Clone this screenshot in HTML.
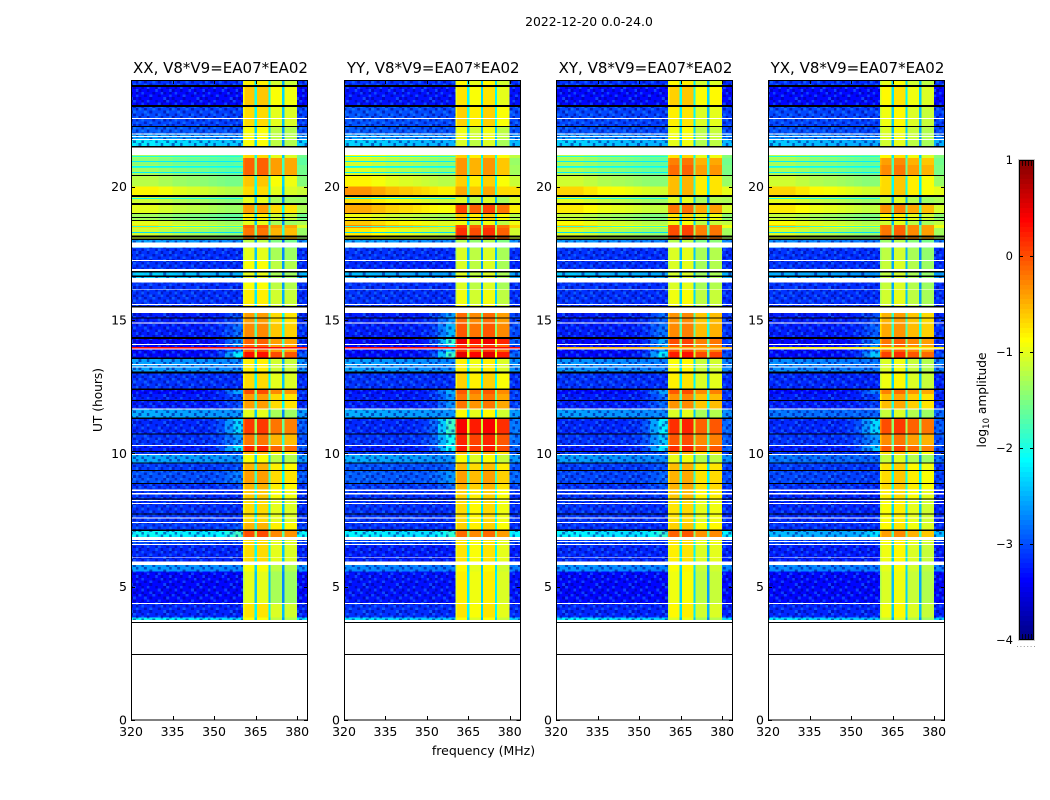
<!DOCTYPE html>
<html lang="en">
<head>
<meta charset="utf-8">
<title>2022-12-20 0.0-24.0</title>
<style>
html,body{margin:0;padding:0;background:#fff;}
svg{display:block;}
text{font-family:"DejaVu Sans","Liberation Sans",sans-serif;fill:#000;}
</style>
</head>
<body>
<svg id="chart" xmlns="http://www.w3.org/2000/svg" width="1050" height="800" viewBox="0 0 1050 800">
<defs>
<pattern id="speckle" patternUnits="userSpaceOnUse" width="33.24" height="27">
<g transform="scale(2.77,2.7)" shape-rendering="crispEdges">
<path fill="#000090" fill-opacity="0.55" d="M1 0h1v1h-1zM4 0h1v1h-1zM9 0h1v1h-1zM6 1h1v1h-1zM11 1h1v1h-1zM0 2h1v1h-1zM3 2h1v1h-1zM8 2h1v1h-1zM5 3h1v1h-1zM10 3h1v1h-1zM2 3h1v1h-1zM7 4h1v1h-1zM1 4h1v1h-1zM11 4h1v1h-1zM4 5h1v1h-1zM9 5h1v1h-1zM0 6h1v1h-1zM6 6h1v1h-1zM2 6h1v1h-1zM8 7h1v1h-1zM3 7h1v1h-1zM11 7h1v1h-1zM5 8h1v1h-1zM1 8h1v1h-1zM10 8h1v1h-1zM7 9h1v1h-1zM3 9h1v1h-1zM0 9h1v1h-1z"/>
<path fill="#20a0ff" fill-opacity="0.4" d="M2 0h1v1h-1zM7 0h1v1h-1zM0 1h1v1h-1zM4 1h1v1h-1zM9 2h1v1h-1zM5 2h1v1h-1zM1 3h1v1h-1zM8 3h1v1h-1zM3 4h1v1h-1zM10 4h1v1h-1zM6 5h1v1h-1zM1 5h1v1h-1zM11 6h1v1h-1zM5 7h1v1h-1zM0 7h1v1h-1zM9 8h1v1h-1zM3 8h1v1h-1zM6 9h1v1h-1zM10 9h1v1h-1z"/>
</g>
</pattern>
</defs>
<rect x="0" y="0" width="1050" height="800" fill="#fff"/>
<text x="589" y="26" font-size="12.4" text-anchor="middle">2022-12-20 0.0-24.0</text>
<text x="483.5" y="755" font-size="12.5" text-anchor="middle">frequency (MHz)</text>
<text transform="translate(102,400) rotate(-90)" font-size="12.2" text-anchor="middle">UT (hours)</text>
<text transform="translate(986,400) rotate(-90)" font-size="12.2" text-anchor="middle">log<tspan font-size="8.5" dy="3">10</tspan><tspan dy="-3"> amplitude</tspan></text>
</svg>
<script>
// ---- frequency channels (MHz) ----
const freqEdges = [320,325,330,335,340,345,348,351,354,357,360.4,361,364.6,365.4,369.6,370.4,374.6,375.4,380,384];
const channelLeak = [0,0,0,0,0,0,0,0,0,0,0.9,1,1,1,1,1,1,1,0];
const channelGlow = [0,0,0,0,0,0.03,0.1,0.3,0.8,1.3,0,0,0,0,0,0,0,0,0.4];
const channelTilt = [0.1,0.1,0.06,0.02,0,-0.02,-0.04,-0.06,-0.08,-0.08,0,0,0,0,0,0,0,0,-0.04];
const channelOffset = [0,0,0,0,0,0,0,0,0,0,-0.1,-0.1,-1.5,-0.1,-1.5,-0.1,-1.5,-0.1,0];
const channelBand = [-1,-1,-1,-1,-1,-1,-1,-1,-1,-1,0,0,0,1,1,2,2,3,-1];

// ---- time segments: lower edge in hours, last entry is the top ----
const segmentEdges = [3.75,3.84,4.39,5.56,5.81,6.56,6.87,7.15,7.38,8.30,
  8.66,8.85,9.36,9.64,9.94,10.09,10.27,10.72,11.29,11.66,
  12.22,12.37,13.01,13.54,13.80,14.06,14.29,14.85,15.26,15.56,
  16.14,16.40,16.80,17.20,17.70,18.00,18.45,18.56,18.71,18.97,
  19.31,19.65,20.00,20.40,20.81,21.07,21.19,21.52,21.75,22.00,22.24,22.99,23.74,24.00];

// ---- log10 amplitude by segment, below the band ----
const lowXX = [-2.1,-3.05,-3.2,-2.5,-3.05,-2.9,-2.1,-2.95,-3.0,-3.0,
  -3.0,-2.85,-2.95,-2.45,-3.0,-3.1,-3.0,-3.05,-2.45,-3.1,
  -3.2,-3.0,-2.5,-3.2,-3.2,-3.2,-3.1,-3.1,-3.0,-3.0,
  -3.0,-2.3,-3.0,-3.0,-2.5,-1.3,-0.95,-1.2,-1.5,-1.2,
  -1.3,-1.05,-1.4,-1.5,-1.6,-1.5,-1.5,-2.2,-2.5,-2.8,-2.9,-3.2,-3.0];
const lowYY = [-2.2,-3.0,-3.15,-2.6,-3.1,-2.9,-2.15,-3.0,-3.0,-3.0,
  -2.95,-2.8,-2.85,-2.45,-2.95,-3.1,-3.0,-3.05,-2.45,-3.1,
  -3.15,-3.0,-2.5,-3.2,-3.2,-3.2,-3.1,-3.1,-3.0,-3.0,
  -3.0,-2.4,-3.05,-3.0,-2.5,-1.0,-0.55,-0.85,-1.15,-0.7,
  -0.95,-0.6,-1.05,-1.25,-1.3,-1.1,-1.1,-2.3,-2.5,-2.8,-2.85,-3.15,-3.0];
const lowXY = [-2.15,-3.05,-3.2,-2.55,-3.05,-2.95,-2.15,-3.0,-3.0,-3.0,
  -3.0,-2.9,-2.95,-2.5,-3.0,-3.1,-3.0,-3.05,-2.5,-3.1,
  -3.2,-3.0,-2.55,-3.2,-3.2,-3.2,-3.1,-3.1,-3.0,-3.0,
  -3.0,-2.35,-3.0,-3.0,-2.55,-1.25,-0.85,-1.1,-1.35,-1.0,
  -1.2,-0.9,-1.3,-1.45,-1.5,-1.4,-1.4,-2.3,-2.55,-2.85,-2.9,-3.2,-3.0];
const lowYX = [-2.2,-3.05,-3.2,-2.6,-3.1,-2.95,-2.4,-3.0,-3.05,-3.05,
  -3.0,-2.9,-2.95,-2.7,-3.0,-3.1,-3.0,-3.05,-2.7,-3.1,
  -3.2,-3.05,-2.6,-3.2,-3.2,-3.2,-3.1,-3.1,-3.0,-3.0,
  -3.0,-2.45,-3.0,-3.0,-2.6,-1.25,-0.85,-1.1,-1.35,-1.0,
  -1.2,-0.9,-1.3,-1.45,-1.5,-1.4,-1.4,-2.35,-2.6,-2.85,-2.9,-3.2,-3.0];

// ---- log10 amplitude by segment, inside the band ----
const highXX = [-0.9,-0.75,-1.0,-0.9,-0.7,-0.7,0.0,-0.5,-0.7,-0.6,
  -0.5,-0.4,-0.5,-0.9,-0.5,0.2,-0.2,0.1,-1.0,-0.4,
  0.0,-0.7,-0.8,0.3,-0.1,-0.1,-0.3,-0.4,-0.8,-0.8,
  -0.9,-1.0,-0.9,-1.0,-1.2,-0.2,-0.1,-1.0,-0.8,-0.4,
  -1.0,-0.7,-0.6,-0.1,-0.1,-0.7,-0.7,-0.9,-0.9,-0.9,-0.7,-0.6,-0.8];
const highYY = [-0.85,-0.7,-0.75,-0.8,-0.7,-0.7,-0.1,-0.6,-0.65,-0.6,
  -0.45,-0.35,-0.5,-0.85,-0.4,0.3,0.25,0.45,-0.8,-0.15,
  0.0,-0.6,-0.75,0.55,0.15,0.5,0.0,-0.1,-0.85,-0.9,
  -1.0,-1.0,-1.0,-1.0,-1.2,0.2,0.1,-0.9,-0.6,0.1,
  -1.0,-0.4,-0.6,-0.3,-0.3,-0.6,-0.7,-1.0,-0.9,-0.9,-0.6,-0.7,-0.8];
const highXY = [-1.0,-0.8,-0.9,-0.85,-0.75,-0.7,-0.05,-0.6,-0.7,-0.55,
  -0.45,-0.45,-0.5,-0.95,-0.45,0.2,0.0,0.2,-1.0,-0.3,
  0.0,-0.75,-0.85,0.3,0.0,0.05,-0.25,-0.3,-0.9,-0.9,
  -1.0,-1.05,-1.0,-1.0,-1.2,0.05,0.05,-0.9,-0.7,-0.15,
  -1.0,-0.5,-0.5,-0.1,-0.2,-0.7,-0.7,-0.95,-0.9,-0.9,-0.75,-0.6,-0.8];
const highYX = [-1.05,-0.85,-0.95,-0.9,-0.85,-0.8,-0.3,-0.75,-0.8,-0.7,
  -0.6,-0.6,-0.65,-1.05,-0.6,0.05,-0.2,0.1,-1.05,-0.45,
  -0.15,-0.85,-0.95,0.15,-0.1,-0.1,-0.35,-0.4,-1.0,-1.0,
  -1.05,-1.1,-1.05,-1.1,-1.25,-0.1,-0.1,-1.0,-0.8,-0.25,
  -1.05,-0.6,-0.6,-0.2,-0.3,-0.75,-0.8,-1.0,-0.95,-0.95,-0.85,-0.75,-0.9];

// ---- offset of each of the four sub-bands ----
const bandTrimXX = [0.1,0.1,-0.2,-0.25];
const bandTrimYY = [0.05,-0.1,0.05,-0.2];
const bandTrimXY = [0.05,0.1,-0.2,-0.15];
const bandTrimYX = [0.0,0.1,-0.1,-0.2];

// ---- narrow interference rows: hours and level per polarisation ----
const rfiHours = [14.28,13.94,13.56];
const rfiXX = [0.2,0.35,0.1];
const rfiYY = [-0.6,0.35,-0.8];
const rfiXY = [-0.9,-0.5,-0.6];
const rfiYX = [-1.0,-0.8,-0.7];

// ---- faint streaks across the sub-band part of the evening rows ----
const streakHours = [21.11,20.93,20.74,20.7,20.51,19.54,18.49,18.26];
const streakLevels = [-2.0,-2.2,-2.1,-1.9,-2.2,-2.0,-1.9,-2.3];

// ---- flagged rows, hours as lower,upper pairs ----
const missingRows = [22.54,22.58,21.96,21.99,21.86,21.9,21.75,21.79,21.19,21.46,17.71,17.9,17.21,17.25,16.84,16.91,16.4,16.58,16.14,16.17,15.56,15.6,15.27,15.46,14.86,14.9,14.06,14.1,13.9,13.94,13.31,13.35,13.21,13.25,11.65,11.69,10.28,10.31,9.94,9.98,8.58,8.65,8.45,8.52,8.21,8.25,8.1,8.13,7.56,7.6,7.39,7.43,6.75,6.87,6.68,6.71,6.56,6.6,6.09,6.12,5.81,5.94,4.35,4.38];
const badRows = [23.74,23.81,22.99,23.06,22.24,22.28,21.46,21.52,20.4,20.44,19.62,19.69,19.31,19.39,18.98,19.02,18.85,18.87,18.71,18.75,18.1,18.16,18.0,18.06,16.79,16.84,16.61,16.66,15.46,15.53,15.06,15.1,14.28,14.37,13.54,13.59,13.0,13.06,12.38,12.44,11.97,12.0,11.29,11.35,10.71,10.75,10.05,10.09,9.64,9.66,9.35,9.38,8.85,8.88,8.28,8.31,7.73,7.75,7.09,7.15,3.65,3.68,2.44,2.48];

// ---- axes ----
const xTicks = [320,335,350,365,380];
const yTicks = [0,5,10,15,20];
const colorbarTicks = [-4,-3,-2,-1,0,1];
const panelTitles = ["XX, V8*V9=EA07*EA02","YY, V8*V9=EA07*EA02","XY, V8*V9=EA07*EA02","YX, V8*V9=EA07*EA02"];
const panelLows = [lowXX,lowYY,lowXY,lowYX];
const panelHighs = [highXX,highYY,highXY,highYX];
const panelTrims = [bandTrimXX,bandTrimYY,bandTrimXY,bandTrimYX];
const panelRfi = [rfiXX,rfiYY,rfiXY,rfiYX];
const panelSlugs = ["xx","yy","xy","yx"];
const panelLeft = [131,344,556,768];
const panelRight = [308,520.5,733,945];

const SVG_NS = "http://www.w3.org/2000/svg";
const svg = document.getElementById("chart");
const plotTop = 80, plotBottom = 720;
const yScale = function (h) { return plotBottom - (h / 24) * (plotBottom - plotTop); };
const cbTop = 160, cbBottom = 640;
const cbScale = function (v) { return cbBottom - ((v + 4) / 5) * (cbBottom - cbTop); };

function clip01(v) { return Math.max(0, Math.min(1, v)); }
function jet(v) {
  const t = clip01((v + 4) / 5);
  const r = clip01(1.5 - Math.abs(4 * t - 3));
  const g = clip01(1.5 - Math.abs(4 * t - 2));
  const b = clip01(1.5 - Math.abs(4 * t - 1));
  return "rgb(" + Math.round(r * 255) + "," + Math.round(g * 255) + "," + Math.round(b * 255) + ")";
}
function mk(tag, parent, attrs) {
  const el = document.createElementNS(SVG_NS, tag);
  for (const k in attrs) el.setAttribute(k, attrs[k]);
  parent.appendChild(el);
  return el;
}

panelTitles.forEach(function (title, p) {
  const left = panelLeft[p], right = panelRight[p];
  const xScale = function (f) { return left + (f - 320) * (right - left) / 63.9; };
  const slug = panelSlugs[p];
  const g = mk("g", svg, {});
  
  

  const cells = mk("g", g, {"shape-rendering": "crispEdges"});
  
  

  const lows = panelLows[p], highs = panelHighs[p], trims = panelTrims[p];
  for (let s = 0; s < lows.length; s++) {
    const yTop = yScale(segmentEdges[s + 1]), yBot = yScale(segmentEdges[s]);
    const low = lows[s], high = highs[s];
    const bias = -0.15 * clip01(-1.5 - low);
    for (let c = 0; c < channelLeak.length; c++) {
      const x0 = xScale(freqEdges[c]);
      const x1 = Math.min(xScale(freqEdges[c + 1]), right);
      const trim = channelBand[c] >= 0 ? trims[channelBand[c]] : 0;
      const glow = channelGlow[c] * Math.max(0, high + 0.6) * clip01(-1.5 - low);
      const outside = 1 - channelLeak[c];
      const val = low + channelLeak[c] * (high - low) + glow + (channelTilt[c] * (low + 3.2) + bias) * outside + channelOffset[c] + trim;
      const cell = mk("rect", cells, {x: x0, y: yTop, width: x1 - x0, height: yBot - yTop, fill: jet(val)});
      
      
    }
    if (low < -1.9) {
      const sp = mk("rect", cells, {x: left, y: yTop, width: xScale(360.4) - left, height: yBot - yTop, fill: "url(#speckle)"});
      
      
      const sp2 = mk("rect", cells, {x: xScale(380), y: yTop, width: right - xScale(380), height: yBot - yTop, fill: "url(#speckle)"});
      
      
    }
  }
  streakHours.forEach(function (h, i) {
    const st = mk("rect", cells, {x: left, y: yScale(h + 0.04), width: xScale(360.4) - left, height: yScale(h) - yScale(h + 0.04), fill: jet(streakLevels[i])});
    
    
  });
  rfiHours.forEach(function (h, i) {
    const line = mk("rect", cells, {x: left, y: yScale(h + 0.04), width: right - left, height: yScale(h) - yScale(h + 0.04), fill: jet(panelRfi[p][i])});
    
    
  });
  for (let i = 0; i < missingRows.length; i += 2) {
    const gap = mk("rect", cells, {x: left, y: yScale(missingRows[i + 1]), width: right - left, height: yScale(missingRows[i]) - yScale(missingRows[i + 1]), fill: "#fff"});
    
    
  }
  for (let i = 0; i < badRows.length; i += 2) {
    const bad = mk("rect", cells, {x: left, y: yScale(badRows[i + 1]), width: right - left, height: Math.max(1, yScale(badRows[i]) - yScale(badRows[i + 1])), fill: "#000"});
    
    
  }

  const frame = mk("rect", g, {x: left + 0.5, y: plotTop + 0.5, width: Math.round(right - left) - 1, height: plotBottom - plotTop - 0.5, fill: "none", stroke: "#000", "stroke-width": 1});
  
  

  const head = mk("text", g, {x: (left + right) / 2 + 1, y: 73, "font-size": 15, "text-anchor": "middle"});
  head.textContent = title;
  
  

  xTicks.forEach(function (f) {
    const x = Math.round(xScale(f)) + 0.5;
    const t1 = mk("line", g, {x1: x, x2: x, y1: plotBottom, y2: plotBottom - 4, stroke: "#000"});
    
    
    const t2 = mk("line", g, {x1: x, x2: x, y1: plotTop, y2: plotTop + 4, stroke: "#000"});
    
    
    const lab = mk("text", g, {x: xScale(f), y: 736, "font-size": 12.5, "text-anchor": "middle"});
    lab.textContent = String(f);
    
    
  });
  yTicks.forEach(function (h) {
    const y = Math.round(yScale(h)) + 0.5;
    const t1 = mk("line", g, {x1: left, x2: left + 4, y1: y, y2: y, stroke: "#000"});
    
    
    const t2 = mk("line", g, {x1: right - 4, x2: right, y1: y, y2: y, stroke: "#000"});
    
    
    const lab = mk("text", g, {x: left - 4, y: yScale(h) + 4.5, "font-size": 12.5, "text-anchor": "end"});
    lab.textContent = String(h);
    
    
  });
});

// ---- colorbar ----
const cb = mk("g", svg, {});


const cbLeft = 1019, cbRight = 1034;
for (let i = 0; i < 100; i++) {
  const v = -4 + i * 0.05;
  const yT = cbScale(v + 0.05), yB = cbScale(v);
  const band = mk("rect", cb, {x: cbLeft, y: yT, width: cbRight - cbLeft, height: yB - yT, fill: jet(v + 0.025), "shape-rendering": "crispEdges"});
  
  
}
const cbFrame = mk("rect", cb, {x: cbLeft + 0.5, y: cbTop + 0.5, width: cbRight - cbLeft - 1, height: cbBottom - cbTop - 1, fill: "none", stroke: "#000"});


const cbOuter = mk("rect", cb, {x: cbLeft - 0.5, y: cbTop - 0.5, width: cbRight - cbLeft + 1, height: cbBottom - cbTop + 1, fill: "none", stroke: "#c8c8c8"});


colorbarTicks.forEach(function (v) {
  const y = Math.min(cbBottom - 1, Math.round(cbScale(v))) + 0.5;
  const t1 = mk("line", cb, {x1: cbLeft, x2: cbLeft + 4, y1: y, y2: y, stroke: "#000"});
  
  
  const t2 = mk("line", cb, {x1: cbRight - 4, x2: cbRight, y1: y, y2: y, stroke: "#000"});
  
  
  const lab = mk("text", cb, {x: 1013, y: cbScale(v) + 4, "font-size": 11.5, "text-anchor": "end"});
  lab.textContent = v < 0 ? "\u2212" + Math.abs(v) : String(v);
  
  
});
for (let i = 1; i <= 4; i++) {
  const x = cbLeft + 3 * i + 0.5;
  const tTop = mk("line", cb, {x1: x, x2: x, y1: cbTop + 1, y2: cbTop + 6, stroke: "#000", "stroke-opacity": 0.8});
  
  
  const tBot = mk("line", cb, {x1: x, x2: x, y1: cbBottom - 1, y2: cbBottom - 6, stroke: "#000", "stroke-opacity": 0.8});
  
  
}
const dots = mk("line", cb, {x1: 1017, x2: 1035, y1: 646.5, y2: 646.5, stroke: "#999", "stroke-dasharray": "1 2.4"});


</script>
</body>
</html>
